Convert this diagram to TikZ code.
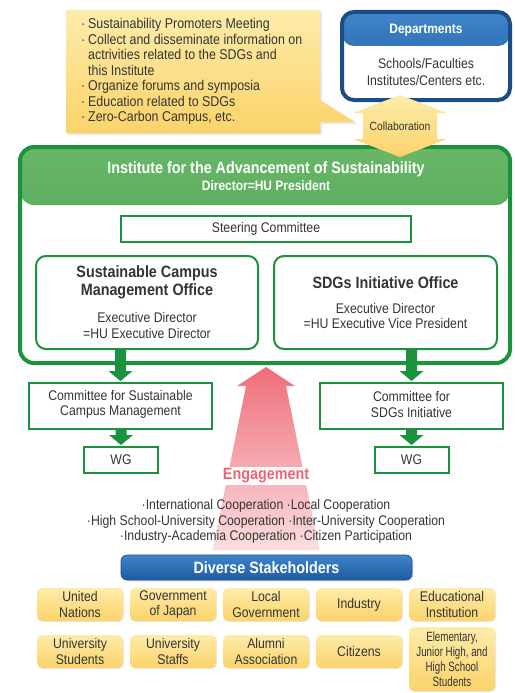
\documentclass[tikz,border=0pt]{standalone}
\usepackage{fontspec}
\setmainfont{Liberation Sans}[FakeStretch=0.875]
\newfontfamily\narrowfont{Liberation Sans}[FakeStretch=0.73]
\usetikzlibrary{calc,shadows}
\definecolor{gline}{RGB}{28,146,62}
\definecolor{ghtop}{RGB}{106,182,104}
\definecolor{ghbot}{RGB}{60,156,72}
\definecolor{bline}{RGB}{26,76,138}
\definecolor{bhtop}{RGB}{64,132,200}
\definecolor{bhbot}{RGB}{30,90,162}
\definecolor{ytop}{RGB}{253,236,170}
\definecolor{ybot}{RGB}{251,211,106}
\definecolor{ptop}{RGB}{239,110,122}
\definecolor{pbot}{RGB}{251,222,225}
\definecolor{engc}{RGB}{236,100,116}
\definecolor{txtc}{RGB}{52,52,52}
\newcommand\fsz[2]{\fontsize{#1}{#2}\selectfont}
\newcommand\cbul{\makebox[7pt][l]{·}}
\newcommand\cind{\hspace*{7pt}}
\newcommand\gconn[2]{%
  \fill[gline] let \p1=(#1.south), \p2=(#2.north) in
    (\x2-5.5pt,\y1) -- (\x2+5.5pt,\y1) -- (\x2+5.5pt,\y2+11pt) -- (\x2+12pt,\y2+11pt)
    -- (\x2,\y2+1pt) -- (\x2-12pt,\y2+11pt) -- (\x2-5.5pt,\y2+11pt) -- cycle;}
\tikzset{
  base/.style={text=txtc, inner sep=0pt},
  body/.style={base, align=center, font=\fsz{14}{15.5}},
  gbox/.style={draw=gline, line width=2pt, fill=white, inner sep=0pt},
  gwbox/.style={gbox, rounded corners=10pt},
  sbox/.style={rounded corners=5pt, minimum width=86pt, minimum height=33pt,
    top color=ytop, bottom color=ybot, text=txtc, align=center,
    font=\fsz{14}{15.5}, inner sep=0pt,
    drop shadow={shadow xshift=1pt, shadow yshift=-1pt, opacity=0.18}},
  yshape/.style={top color=ytop, bottom color=ybot},
}
\begin{document}
\begin{tikzpicture}[x=1pt,y=-1pt]
\useasboundingbox (0,0) rectangle (514,693);
% callout
\path[yshape, drop shadow={shadow xshift=2pt, shadow yshift=-2pt, opacity=0.2}]
  (66,10) -- (320,10) -- (320,100) -- (355,122) -- (320,122) -- (320,133) -- (66,133) -- cycle;
\node[base, anchor=west, align=left, font=\fsz{14.2}{15.5}] (ctext) at (81,71.5)
  {\cbul Sustainability Promoters Meeting\\
   \cbul Collect and disseminate information on\\
   \cind actrivities related to the SDGs and\\
   \cind this Institute\\
   \cbul Organize forums and symposia\\
   \cbul Education related to SDGs\\
   \cbul Zero-Carbon Campus, etc.};
% departments
\node[draw=bline, line width=4pt, fill=white, rounded corners=12pt,
  minimum width=168pt, minimum height=88pt, inner sep=0pt,
  path picture={\shade[top color=bhtop, bottom color=bhbot]
    (path picture bounding box.north west) rectangle ([yshift=-34pt]path picture bounding box.north east);}]
  (dept) at (426,56) {};
\node[base, text=white, font=\bfseries\fsz{13.7}{15}] (depth) at (426,30) {Departments};
\node[body, font=\fsz{14}{16.5}] (deptb) at (426,72) {Schools/Faculties\\Institutes/Centers etc.};
% institute
\node[draw=gline, line width=4pt, fill=white, rounded corners=14pt,
  minimum width=490pt, minimum height=216pt, inner sep=0pt,
  path picture={\shade[top color=ghtop, bottom color=ghbot]
    (path picture bounding box.north west) rectangle ([yshift=-58pt]path picture bounding box.north east);}]
  (inst) at (265,255) {};
\node[base, text=white, font=\bfseries\fsz{16.4}{18}] (instt) at (266,169)
  {Institute for the Advancement of Sustainability};
\node[base, text=white, font=\bfseries\fsz{13.7}{15}] (instd) at (266,186) {Director=HU President};
% collaboration arrow
\path[yshape] (400,95) -- (447,113) -- (437,113) -- (437,139) -- (447,139) -- (400,157)
  -- (353,139) -- (363,139) -- (363,113) -- (353,113) -- cycle;
\node[base, font=\fsz{11.8}{13}] (collab) at (400,126) {Collaboration};
% inside institute
\node[gbox, minimum width=290pt, minimum height=26pt] (steer) at (266,229) {};
\node[body] at (steer) {Steering Committee};
\node[gwbox, minimum width=222pt, minimum height=93pt] (ofl) at (147,302.5) {};
\node[gwbox, minimum width=223pt, minimum height=93pt] (ofr) at (385.5,302.5) {};
\node[base, align=center, font=\bfseries\fsz{16.4}{18}] (oflt) at (147,282) {Sustainable Campus\\Management Office};
\node[body, font=\fsz{14}{16}] (ofld) at (147,325) {Executive Director\\=HU Executive Director};
\node[base, font=\bfseries\fsz{16.4}{18}] (ofrt) at (385.5,283) {SDGs Initiative Office};
\node[body, font=\fsz{14}{15}] (ofrd) at (385.5,315.5) {Executive Director\\=HU Executive Vice President};
% committees and WG
\node[gbox, minimum width=183pt, minimum height=46pt] (cl) at (120.5,406) {};
\node[body] at (120.5,404.5) {Committee for Sustainable\\Campus Management};
\node[gbox, minimum width=183pt, minimum height=46pt] (cr) at (411.5,406) {};
\node[body] at (411.5,404.5) {Committee for\\SDGs Initiative};
\node[gbox, minimum width=74pt, minimum height=26pt] (wl) at (121,460) {};
\node[body] at (wl) {WG};
\node[gbox, minimum width=74pt, minimum height=26pt] (wr) at (411.5,460) {};
\node[body] at (wr) {WG};
\gconn{ofl}{cl}
\gconn{ofr}{cr}
\gconn{cl}{wl}
\gconn{cr}{wr}
% engagement arrow
\coordinate (engbase) at (266,550);
\shade[top color=ptop, bottom color=pbot] let \p1=(inst.south), \p2=(engbase) in
  (\x2,\y1-2pt) -- (\x2+29pt,\y1-21pt) -- (\x2+20pt,\y1-21pt) -- (\x2+53.5pt,\y2)
  -- (\x2-53.5pt,\y2) -- (\x2-20pt,\y1-21pt) -- (\x2-29pt,\y1-21pt) -- cycle;
\node[fill=white, inner sep=1.5pt, text=engc, font=\bfseries\fsz{16.4}{18}] (eng) at (266,476) {Engagement};
\node[body] (coop) at (266,521.5)
  {·International Cooperation ·Local Cooperation\\
   ·High School-University Cooperation ·Inter-University Cooperation\\
   ·Industry-Academia Cooperation ·Citizen Participation};
% stakeholders
\node[rounded corners=6pt, minimum width=291pt, minimum height=25pt, inner sep=0pt,
  top color=bhtop, bottom color=bhbot, draw=bline, line width=0.6pt,
  text=white, font=\bfseries\fsz{16.4}{18},
  drop shadow={shadow xshift=1.5pt, shadow yshift=-1.5pt, opacity=0.2}]
  (ds) at (266.5,567.5) {Diverse Stakeholders};
\node[sbox] (s1) at (80,604.5) {United\\Nations};
\node[sbox] (s2) at (173,604.5) {Government\\of Japan};
\node[sbox] (s3) at (266,604.5) {Local\\Government};
\node[sbox] (s4) at (359,604.5) {Industry};
\node[sbox] (s5) at (452,604.5) {Educational\\Institution};
\node[sbox] (s6) at (80,651.5) {University\\Students};
\node[sbox] (s7) at (173,651.5) {University\\Staffs};
\node[sbox] (s8) at (266,651.5) {Alumni\\Association};
\node[sbox] (s9) at (359,651.5) {Citizens};
\node[sbox, minimum height=64pt, font=\narrowfont\fsz{13.4}{15}] (s10) at (452,659)
  {Elementary,\\Junior High, and\\High School\\Students};
\end{tikzpicture}
\end{document}
